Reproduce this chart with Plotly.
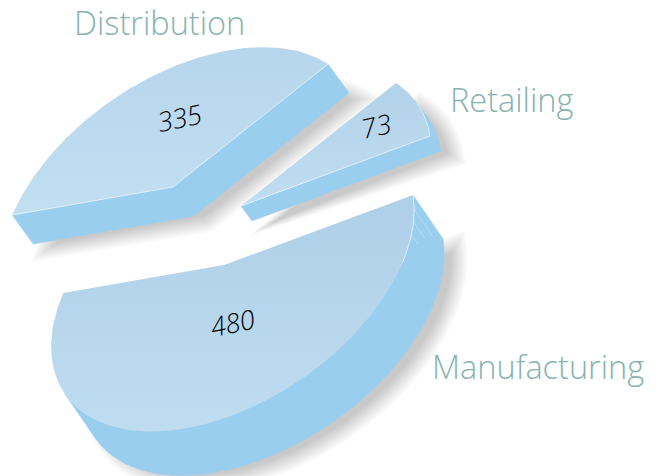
import math
import plotly.graph_objects as go

categories = ["Retailing", "Manufacturing", "Distribution"]
values = [73, 480, 335]

# placement and projection styling (per slice, same order as categories)
apex = [(241, 206), (224, 265), (173, 187)]
depth = [(11, 15), (30, 44), (21, 29)]
top_scale = [
    [[0, "#C0DDF1"], [1, "#B2D2EA"]],
    [[0, "#BFDDF1"], [1, "#AECFE8"]],
    [[0, "#C2DFF2"], [1, "#B6D6ED"]],
]
label_pos = [(448, 99), (430, 366), (72, 22)]
value_pos = [(376, 125), (232, 322), (179, 117)]
SIDE = "#9ACEEF"
LABEL = "#86B2B0"
A = (157.6, -125.0)
B = (86.5, 85.2)
G, H = 0.0167, -0.1289
SHADOW = (13, 6)
BLUR = list(range(-6, 12))


def project(t, c):
    w = 1 + G * math.cos(t) + H * math.sin(t)
    return (c[0] + (A[0] * math.cos(t) + B[0] * math.sin(t)) / w,
            c[1] + (A[1] * math.cos(t) + B[1] * math.sin(t)) / w)


def xy(pts):
    return [p[0] for p in pts], [p[1] for p in pts]


def dilate(pts, r):
    """Offset a clockwise-on-screen closed outline outward by r pixels."""
    n = len(pts)
    out = []
    for k in range(n):
        x0, y0 = pts[k - 1]
        x1, y1 = pts[k]
        x2, y2 = pts[(k + 1) % n]
        l1 = math.hypot(x1 - x0, y1 - y0) or 1
        l2 = math.hypot(x2 - x1, y2 - y1) or 1
        n1 = ((y1 - y0) / l1, -(x1 - x0) / l1)
        n2 = ((y2 - y1) / l2, -(x2 - x1) / l2)
        nx, ny = n1[0] + n2[0], n1[1] + n2[1]
        ln = math.hypot(nx, ny) or 1
        nx, ny = nx / ln, ny / ln
        cos_half = max(0.55, nx * n1[0] + ny * n1[1])
        out.append((x1 + nx * r / cos_half, y1 + ny * r / cos_half))
    return out


fig = go.Figure()
total = sum(values)
start = 0.0
slices = []
for i, v in enumerate(values):
    sweep = 2 * math.pi * v / total
    n = max(8, int(v / 3))
    arc = [project(start + sweep * k / n, apex[i]) for k in range(n + 1)]
    outline = [apex[i]] + arc
    slices.append((arc, outline, start, sweep))
    start += sweep

# soft shadows: stacked, progressively dilated fills
for i, (arc, outline, _, _) in enumerate(slices):
    dx, dy = depth[i][0] + SHADOW[0], depth[i][1] + SHADOW[1]
    shifted = [(x + dx, y + dy) for x, y in outline]
    for r in BLUR:
        poly = dilate(shifted, r)
        sx, sy = xy(poly + poly[:1])
        fig.add_trace(go.Scatter(x=sx, y=sy, mode="lines", fill="toself",
                                 fillcolor="rgba(0,0,0,0.0125)",
                                 line=dict(width=0, color="rgba(0,0,0,0)"),
                                 hoverinfo="skip", showlegend=False))

# side walls and top faces
for i, (arc, outline, st, sweep) in enumerate(slices):
    off = depth[i]
    m = len(outline)
    vis = [((outline[(k + 1) % m][1] - outline[k][1]) * off[0]
            - (outline[(k + 1) % m][0] - outline[k][0]) * off[1]) > 0 for k in range(m)]
    first = next(k for k in range(m) if vis[k] and not vis[k - 1])
    run = [outline[first]]
    k = first
    while vis[k]:
        k = (k + 1) % m
        run.append(outline[k])
    band = run + [(x + off[0], y + off[1]) for x, y in reversed(run)]
    bx, by = xy(band + band[:1])
    fig.add_trace(go.Scatter(x=bx, y=by, mode="lines", fill="toself", fillcolor=SIDE,
                             line=dict(color=SIDE, width=0.5),
                             hoverinfo="skip", showlegend=False))
    tx, ty = xy(outline + outline[:1])
    fig.add_trace(go.Scatter(x=tx, y=ty, mode="lines", fill="toself",
                             fillgradient=dict(type="vertical", colorscale=top_scale[i]),
                             line=dict(color="rgba(0,0,0,0)", width=0),
                             hoverinfo="skip", showlegend=False))
    # light highlight on the rim between top and wall
    hi = run[:22] if values[i] == max(values) else run
    hx, hy = xy(hi)
    fig.add_trace(go.Scatter(x=hx, y=hy, mode="lines",
                             line=dict(color="rgba(255,255,255,0.6)", width=1),
                             hoverinfo="skip", showlegend=False))
    if values[i] == max(values):
        for frac, ln in ((0.03, 0.62), (0.055, 0.38), (0.08, 0.2)):
            p = project(st + sweep * frac, apex[i])
            fig.add_trace(go.Scatter(x=[p[0], p[0] + off[0] * ln], y=[p[1], p[1] + off[1] * ln],
                                     mode="lines",
                                     line=dict(color="rgba(255,255,255,0.35)", width=0.7),
                                     hoverinfo="skip", showlegend=False))

annotations = []
for i, c in enumerate(categories):
    annotations.append(dict(x=label_pos[i][0], y=label_pos[i][1], text=c, showarrow=False,
                            xref="x", yref="y", xanchor="left", yanchor="middle",
                            font=dict(family="Open Sans", size=32.5, weight=300, color=LABEL)))
    annotations.append(dict(x=value_pos[i][0], y=value_pos[i][1], text=str(values[i]),
                            showarrow=False, xref="x", yref="y", textangle=-12,
                            font=dict(family="Open Sans", size=27, weight=300,
                                      style="italic", color="#000000")))

fig.update_layout(
    width=659, height=476, margin=dict(l=0, r=0, t=0, b=0),
    paper_bgcolor="white", plot_bgcolor="white", showlegend=False,
    xaxis=dict(range=[0, 659], visible=False),
    yaxis=dict(range=[476, 0], visible=False),
    annotations=annotations,
)
fig.write_html("out.html", config=dict(displayModeBar=False),
               post_script="document.body.style.margin='0';document.body.style.overflow='hidden';")
